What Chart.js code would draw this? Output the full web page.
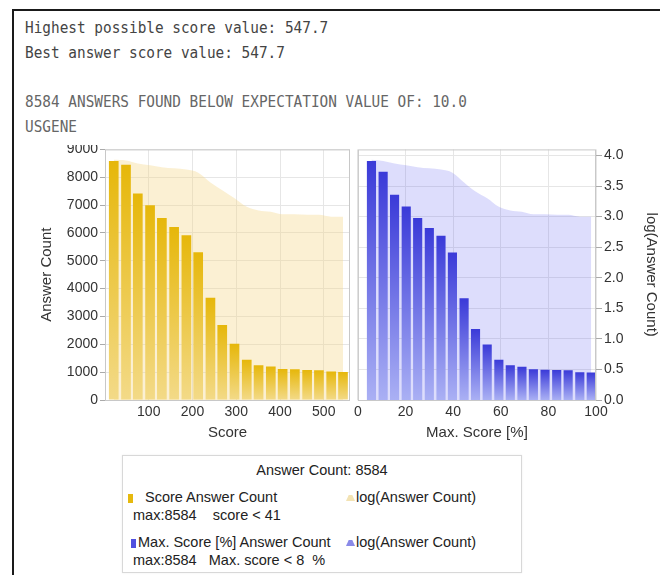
<!DOCTYPE html>
<html>
<head>
<meta charset="utf-8">
<script src="https://cdn.jsdelivr.net/npm/chart.js@4"></script>
<style>
  body { margin: 0; background: #fff; width: 660px; height: 575px; overflow: hidden; position: relative; }
  #frame { position: absolute; left: 12px; top: 9px; width: 700px; height: 600px;
           border-left: 2px solid #1a1a1a; border-top: 2px solid #1a1a1a; }
  .mono { position: absolute; left: 25px; font-family: "DejaVu Sans Mono", monospace; font-size: 14.4px;
          line-height: 18px; white-space: pre; transform: scaleY(1.05); }
  #charts { position: absolute; left: 0; top: 145px; width: 660px; height: 300px; overflow: hidden; }
  #charts canvas { position: absolute; top: -6px; }
  #legend { position: absolute; left: 122px; top: 455px; width: 398px; height: 116px;
            border: 1px solid #d8d8d8; box-shadow: 0 0 2px #eee;
            font-family: "Liberation Sans", Arial, sans-serif; font-size: 14.5px; color: #222; }
  #legend span { position: absolute; white-space: pre; line-height: 17px; }
  .sq { width: 5px; height: 9px; }
  .tri { width: 9px; height: 6px; clip-path: polygon(0 100%, 30% 0, 70% 0, 100% 100%); }
</style>
</head>
<body>
<div id="frame"></div>
<div class="mono" style="top:19px;color:#444">Highest possible score value: 547.7</div>
<div class="mono" style="top:44px;color:#444">Best answer score value: 547.7</div>
<div class="mono" style="top:93px;color:#666">8584 ANSWERS FOUND BELOW EXPECTATION VALUE OF: 10.0</div>
<div class="mono" style="top:118px;color:#666">USGENE</div>

<div id="charts">
  <canvas id="right" width="310" height="306" style="left:350px"></canvas>
  <canvas id="left" width="324" height="306" style="left:30px"></canvas>
</div>

<div id="legend">
  <span style="left:0;width:398px;text-align:center;top:6px">Answer Count: 8584</span>
  <span class="sq" style="left:5px;top:38px;background:#e6b90e"></span>
  <span style="left:22px;top:33px">Score Answer Count</span>
  <span class="tri" style="left:223px;top:39px;background:#f3e3b4"></span>
  <span style="left:233px;top:33px">log(Answer Count)</span>
  <span style="left:10px;top:51px">max:8584    score &lt; 41</span>
  <span class="sq" style="left:8px;top:83px;background:#5050e0"></span>
  <span style="left:15px;top:78px">Max. Score [%] Answer Count</span>
  <span class="tri" style="left:223px;top:84px;background:#8a8ae8"></span>
  <span style="left:233px;top:78px">log(Answer Count)</span>
  <span style="left:10px;top:96px">max:8584   Max. score &lt; 8  %</span>
</div>

<script>
// score panel
const scoreBins = [20, 48, 75, 103, 130, 158, 186, 213, 241, 268, 296, 324, 351, 379, 406, 434, 462, 489, 517, 544];
const scoreCounts = [8584, 8450, 7420, 6990, 6540, 6210, 5920, 5310, 3670, 2690, 2020, 1450, 1250, 1200, 1110, 1100, 1080, 1070, 1020, 1010];
const scoreLog = [3.93, 3.92, 3.87, 3.84, 3.81, 3.79, 3.77, 3.72, 3.56, 3.43, 3.30, 3.16, 3.10, 3.08, 3.04, 3.04, 3.03, 3.03, 3.00, 3.00];

// max. score [%] panel
const pctBins = [5.7, 10.6, 15.4, 20.3, 25.1, 30.0, 34.9, 39.7, 44.6, 49.4, 54.3, 59.2, 64.0, 68.9, 73.7, 78.6, 83.5, 88.3, 93.2, 98.0];
const pctCounts = [8584, 8200, 7370, 6950, 6540, 6180, 5900, 5300, 3650, 2550, 1990, 1450, 1250, 1190, 1100, 1090, 1080, 1070, 1000, 990];
const pctLog = [3.93, 3.91, 3.87, 3.84, 3.81, 3.79, 3.77, 3.72, 3.56, 3.41, 3.30, 3.16, 3.10, 3.08, 3.04, 3.04, 3.03, 3.03, 3.00, 3.00];

Chart.defaults.font.family = '"Liberation Sans", Arial, sans-serif';
Chart.defaults.color = '#333';
Chart.defaults.animation = false;

const GRID = '#e6e6e6';
const FRAME = '#c8c8c8';

function barGradient(top, bottom) {
  return (c) => {
    const chart = c.chart;
    if (!chart.chartArea || c.type !== 'data') return top;
    const y = chart.scales.y;
    const g = chart.ctx.createLinearGradient(0, y.getPixelForValue(c.parsed.y), 0, y.getPixelForValue(0));
    g.addColorStop(0, top);
    g.addColorStop(1, bottom);
    return g;
  };
}

// gray box round each plot
const plotFrame = {
  id: 'plotFrame',
  afterDatasetsDraw(chart) {
    const {ctx, chartArea: a} = chart;
    ctx.save();
    ctx.strokeStyle = FRAME;
    ctx.lineWidth = 1;
    ctx.strokeRect(a.left + 0.5, a.top + 0.5, a.right - a.left - 1, a.bottom - a.top);
    ctx.restore();
  }
};

function pts(xs, ys) { return xs.map((x, i) => ({x: x, y: ys[i]})); }

new Chart(document.getElementById('left'), {
  type: 'bar',
  data: {
    datasets: [{
      type: 'line',
      data: pts(scoreBins, scoreLog),
      yAxisID: 'y1',
      fill: 'origin',
      backgroundColor: 'rgba(245,215,140,0.38)',
      borderWidth: 0,
      pointRadius: 0,
      cubicInterpolationMode: 'monotone',
      order: 2
    }, {
      data: pts(scoreBins, scoreCounts),
      backgroundColor: barGradient('#e6b70a', '#f3da88'),
      barPercentage: 0.82,
      categoryPercentage: 1,
      order: 1
    }]
  },
  options: {
    responsive: false,
    layout: {padding: {right: 4, top: 0}},
    plugins: {legend: {display: false}, tooltip: {enabled: false}},
    scales: {
      x: {
        type: 'linear', min: 0, max: 560, offset: false,
        ticks: {stepSize: 100, includeBounds: false, padding: 4, font: {size: 14}, maxRotation: 0,
                callback: (v) => v === 0 ? '' : String(v)},
        grid: {color: GRID, drawTicks: false, offset: false},
        border: {display: false},
        title: {display: true, text: 'Score', font: {size: 15}, padding: {top: 0, bottom: 3}},
        afterFit: (s) => { s.height = 45; }
      },
      y: {
        min: 0, max: 9000,
        ticks: {stepSize: 1000, font: {size: 14}, padding: 2, callback: (v) => String(v)},
        grid: {color: GRID, tickLength: 5, tickColor: '#aaa'},
        border: {display: false},
        title: {display: true, text: 'Answer Count', font: {size: 15}, padding: {top: 8, bottom: 0}},
        afterFit: (s) => { s.width = 75; }
      },
      y1: {display: false, min: 0, max: 4.1}
    }
  },
  plugins: [plotFrame]
});

new Chart(document.getElementById('right'), {
  type: 'bar',
  data: {
    datasets: [{
      type: 'line',
      data: pts(pctBins, pctLog),
      yAxisID: 'y1',
      fill: 'origin',
      backgroundColor: 'rgba(110,110,240,0.23)',
      borderWidth: 0,
      pointRadius: 0,
      cubicInterpolationMode: 'monotone',
      order: 2
    }, {
      data: pts(pctBins, pctCounts),
      backgroundColor: barGradient('#3a3ad8', '#aab0f4'),
      barPercentage: 0.8,
      categoryPercentage: 1,
      order: 1
    }]
  },
  options: {
    responsive: false,
    layout: {padding: {left: 0, top: 0}},
    plugins: {legend: {display: false}, tooltip: {enabled: false}},
    scales: {
      x: {
        type: 'linear', min: 0, max: 100, offset: false,
        ticks: {stepSize: 20, padding: 4, font: {size: 14}, maxRotation: 0},
        grid: {color: GRID, drawTicks: false, offset: false},
        border: {display: false},
        title: {display: true, text: 'Max. Score [%]', font: {size: 15}, padding: {top: 0, bottom: 3}},
        afterFit: (s) => { s.height = 45; }
      },
      y: {display: false, min: 0, max: 9000},
      y1: {
        position: 'right', min: 0, max: 4.1,
        ticks: {stepSize: 0.5, includeBounds: false, font: {size: 14}, padding: 2,
                callback: (v) => v.toFixed(1)},
        grid: {color: GRID, tickLength: 6, tickColor: '#aaa'},
        border: {display: false},
        title: {display: true, text: 'log(Answer Count)', font: {size: 15}, padding: {top: 0, bottom: 0}},
        afterFit: (s) => { s.width = 64; }
      }
    }
  },
  plugins: [plotFrame]
});
</script>
</body>
</html>
